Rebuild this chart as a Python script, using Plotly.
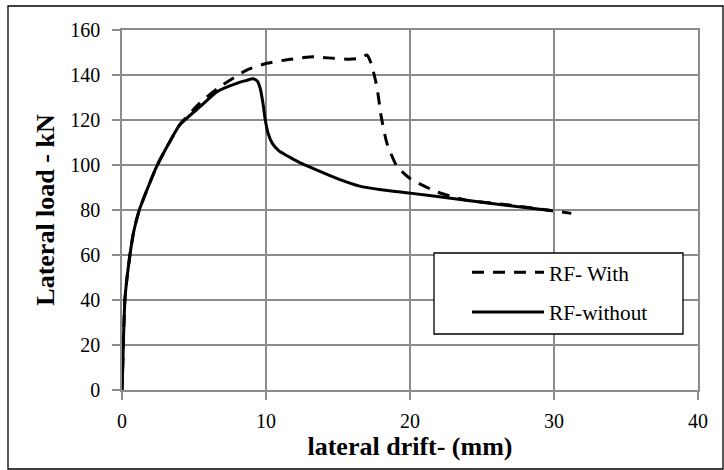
import plotly.graph_objects as go

# Lateral drift (mm) vs lateral load (kN) for the two frames
drift_without = [0, 0.05, 0.09, 0.2, 0.35, 0.55, 0.8, 1.2, 1.8, 2.4, 3.2, 4.0, 5.4, 6.6, 7.96,
                 8.6, 9.1, 9.4, 9.6, 9.8, 9.95, 10.15, 10.45, 10.9, 11.7, 12.5, 13.5, 15.0,
                 16.5, 18.0, 20.0, 23.5, 26.5, 29.9]
load_without = [0, 10, 20, 40, 50, 60, 70, 80, 90, 99.3, 109, 117.8, 125.8, 132.6, 136.3,
                137.5, 138.3, 137.2, 134, 127, 120, 114, 109.5, 106.3, 103.3, 100.6, 97.8, 93.8,
                90.6, 89.0, 87.5, 84.7, 82.2, 79.7]

drift_with = [0, 0.05, 0.09, 0.2, 0.35, 0.55, 0.8, 1.2, 1.8, 2.4, 3.2, 4.0, 5.4, 6.8, 8.66,
              10.05, 11.7, 13.3, 14.7, 15.8, 16.6, 17.0, 17.3, 17.7, 18.0, 18.4, 19.1, 20.0,
              21.85, 23.9, 26.9, 29.9, 31.2]
load_with = [0, 10, 20, 40, 50, 60, 70, 80, 90, 99.3, 109, 117.8, 127.5, 134.8, 142.2,
             145.2, 147, 148.1, 147.4, 147, 147.5, 148.9, 145.2, 134.8, 121.5, 109.6, 99.3, 94,
             88.1, 84.4, 82.2, 79.7, 78.5]

x_ticks = [0, 10, 20, 30, 40]
y_ticks = [0, 20, 40, 60, 80, 100, 120, 140, 160]

FONT = "Liberation Serif"
GRID = "#8c8c8c"

fig = go.Figure()
fig.add_trace(go.Scatter(
    x=drift_with, y=load_with, mode="lines", name="RF- With", legendgroup="a",
    line=dict(color="black", width=3, dash="12px,9px", shape="spline", smoothing=0.5),
))
fig.add_trace(go.Scatter(
    x=drift_without, y=load_without, mode="lines", name="RF-without", legendgroup="b",
    line=dict(color="black", width=3, shape="spline", smoothing=0.5),
))

axis_common = dict(
    showgrid=True, gridcolor=GRID, gridwidth=1.5,
    showline=True, linecolor=GRID, linewidth=1.5, mirror=True,
    ticks="outside", ticklen=8, tickcolor=GRID, tickwidth=1.5,
    zeroline=False,
    tickfont=dict(family=FONT, size=20, color="black"),
)

fig.update_xaxes(
    range=[0, 40], tickvals=x_ticks, ticklabelstandoff=4,
    title=dict(text="lateral drift- (mm)", standoff=0,
               font=dict(family=FONT, size=26, color="black", weight="bold")),
    **axis_common,
)
fig.update_yaxes(
    range=[0, 160], tickvals=y_ticks, ticklabelstandoff=8,
    title=dict(text="Lateral load - kN", standoff=8,
               font=dict(family=FONT, size=26, color="black", weight="bold")),
    **axis_common,
)

# Legend frame and outer chart frame
fig.add_shape(type="rect", xref="paper", yref="paper",
              x0=(434 - 122) / 576, x1=(683 - 122) / 576,
              y0=(390 - 334) / 360, y1=(390 - 253) / 360,
              line=dict(color="black", width=1.3), fillcolor="white", layer="above")
fig.add_shape(type="rect", xref="paper", yref="paper",
              x0=(8 - 122) / 576, x1=(723 - 122) / 576,
              y0=(390 - 469) / 360, y1=(390 - 6) / 360,
              line=dict(color="black", width=1.3), layer="below")

fig.update_layout(
    width=724, height=470,
    margin=dict(l=122, r=26, t=30, b=80),
    paper_bgcolor="white", plot_bgcolor="white",
    font=dict(family=FONT, color="black"),
    showlegend=True,
    legend=dict(
        x=(467 - 122) / 576, y=(390 - 252) / 360, xanchor="left", yanchor="top",
        bgcolor="rgba(0,0,0,0)", borderwidth=0,
        font=dict(family=FONT, size=21.3, color="black"),
        itemwidth=72, tracegroupgap=9,
    ),
)

fig.write_html("out.html")
